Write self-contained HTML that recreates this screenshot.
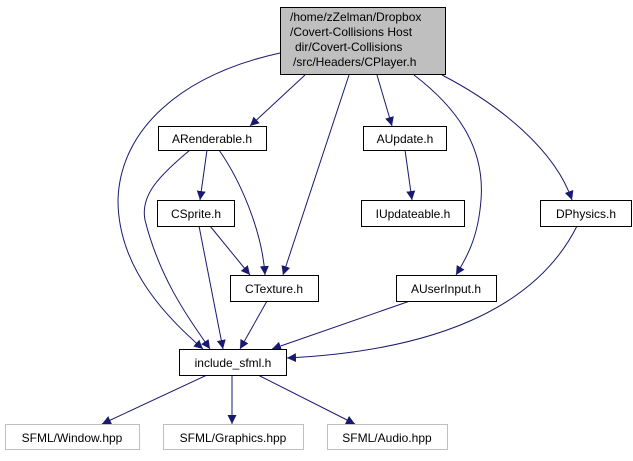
<!DOCTYPE html>
<html><head><meta charset="utf-8"><style>
html,body{margin:0;padding:0;background:#fff;}
svg text{font-family:"Liberation Sans",Arial,sans-serif;font-size:12px;}
</style></head><body>
<svg width="633" height="456" viewBox="0 0 633 456" xmlns="http://www.w3.org/2000/svg">
<defs>
<marker id="a" viewBox="0 0 10 10" refX="10" refY="5" markerWidth="9" markerHeight="9" markerUnits="userSpaceOnUse" orient="auto">
<path d="M0,0 L10,5 L0,10 z" fill="#191970"/>
</marker>
</defs>
<g fill="none" stroke="#191970" stroke-width="1" marker-end="url(#a)">
<path d="M280,53 C180,75 120,130 118,200 C118,270 170,320 203,349"/>
<path d="M305,75 L250,126"/>
<path d="M349,75 L283,275"/>
<path d="M377,75 L392,126"/>
<path d="M414,75 C460,110 485,150 481,200 C478,240 465,260 456,275"/>
<path d="M442,75 C500,105 555,150 572,200"/>
<path d="M190,150 C160,175 140,195 145,220 C160,280 190,320 210,349"/>
<path d="M207,150 L200,200"/>
<path d="M219,150 C240,180 262,230 265,275"/>
<path d="M210,226 L250,275"/>
<path d="M199,226 L223,349"/>
<path d="M267,301 L240,349"/>
<path d="M405,150 L412,200"/>
<path d="M410,301 L272,349"/>
<path d="M577,226 C540,300 450,350 287,358"/>
<path d="M207,375 L102,424"/>
<path d="M232,375 L232,424"/>
<path d="M258,375 L355,424"/>
</g>
<g stroke-width="1">
<rect x="280.5" y="7.5" width="165" height="67" fill="#bfbfbf" stroke="#000"/>
<rect x="158.5" y="126.5" width="108" height="24" fill="#fff" stroke="#000"/>
<rect x="363.5" y="126.5" width="83" height="24" fill="#fff" stroke="#000"/>
<rect x="157.5" y="200.5" width="77" height="26" fill="#fff" stroke="#000"/>
<rect x="361.5" y="200.5" width="103" height="26" fill="#fff" stroke="#000"/>
<rect x="540.5" y="200.5" width="91" height="26" fill="#fff" stroke="#000"/>
<rect x="230.5" y="275.5" width="88" height="26" fill="#fff" stroke="#000"/>
<rect x="396.5" y="275.5" width="100" height="26" fill="#fff" stroke="#000"/>
<rect x="179.5" y="349.5" width="107" height="26" fill="#fff" stroke="#000"/>
<rect x="5.5" y="424.5" width="134" height="25" fill="#fff" stroke="#bfbfbf"/>
<rect x="163.5" y="424.5" width="140" height="25" fill="#fff" stroke="#bfbfbf"/>
<rect x="327.5" y="424.5" width="120" height="25" fill="#fff" stroke="#bfbfbf"/>
</g>
<g fill="#000">
<text x="290" y="21">/home/zZelman/Dropbox</text>
<text x="290" y="36">/Covert-Collisions Host</text>
<text x="295" y="51">dir/Covert-Collisions</text>
<text x="293" y="66">/src/Headers/CPlayer.h</text>
<text x="212" y="143" text-anchor="middle">ARenderable.h</text>
<text x="405" y="143" text-anchor="middle">AUpdate.h</text>
<text x="196" y="218" text-anchor="middle">CSprite.h</text>
<text x="413" y="218" text-anchor="middle">IUpdateable.h</text>
<text x="586" y="218" text-anchor="middle">DPhysics.h</text>
<text x="274" y="293" text-anchor="middle">CTexture.h</text>
<text x="446" y="293" text-anchor="middle">AUserInput.h</text>
<text x="233" y="367" text-anchor="middle">include_sfml.h</text>
<text x="72" y="442" text-anchor="middle">SFML/Window.hpp</text>
<text x="233" y="442" text-anchor="middle">SFML/Graphics.hpp</text>
<text x="387" y="442" text-anchor="middle">SFML/Audio.hpp</text>
</g>
</svg>
</body></html>
